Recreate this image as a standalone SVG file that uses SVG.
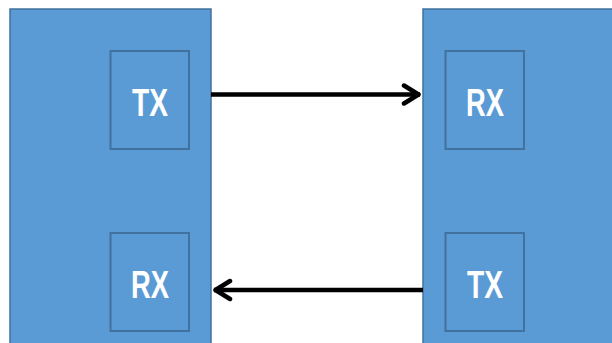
<svg xmlns="http://www.w3.org/2000/svg" width="612" height="343" viewBox="0 0 612 343">
<style>
.big{fill:#5B9BD5;stroke:#41719C;stroke-width:1.5}
.inner{fill:#5B9BD5;stroke:#41719C;stroke-width:2}
.lbl{font-family:"Liberation Sans",Arial,sans-serif;font-weight:bold;font-size:38px;fill:#FFFFFF;text-anchor:middle}
.conn{stroke:#000;stroke-width:4.5;fill:none;marker-end:url(#arr)}
</style>
<defs>
<marker id="arr" viewBox="0 0 22 24" refX="20" refY="12" markerWidth="22" markerHeight="24" markerUnits="userSpaceOnUse" orient="auto">
<path d="M4,3 L18.5,12 L4,21" fill="none" stroke="#000" stroke-width="4.5" stroke-linejoin="round" stroke-linecap="round"/>
</marker>
</defs>
<g id="left-device">
<rect class="big" x="10" y="9" width="201" height="345"/>
</g>
<g id="right-device">
<rect class="big" x="423" y="9" width="200" height="345"/>
</g>
<g id="left-tx">
<rect class="inner" x="110.5" y="51" width="78.5" height="98"/>
<text class="lbl" x="150" y="116" textLength="36" lengthAdjust="spacingAndGlyphs">TX</text>
</g>
<g id="left-rx">
<rect class="inner" x="110.5" y="233" width="78.5" height="98"/>
<text class="lbl" x="150" y="298" textLength="38" lengthAdjust="spacingAndGlyphs">RX</text>
</g>
<g id="right-rx">
<rect class="inner" x="445.5" y="51" width="78.5" height="98"/>
<text class="lbl" x="485" y="116" textLength="38" lengthAdjust="spacingAndGlyphs">RX</text>
</g>
<g id="right-tx">
<rect class="inner" x="445.5" y="233" width="78.5" height="98"/>
<text class="lbl" x="485" y="298" textLength="36" lengthAdjust="spacingAndGlyphs">TX</text>
</g>
<g id="connectors">
<line class="conn" x1="211" y1="94.5" x2="420" y2="94.5"/>
<line class="conn" x1="423" y1="290" x2="214" y2="290"/>
</g>
</svg>
